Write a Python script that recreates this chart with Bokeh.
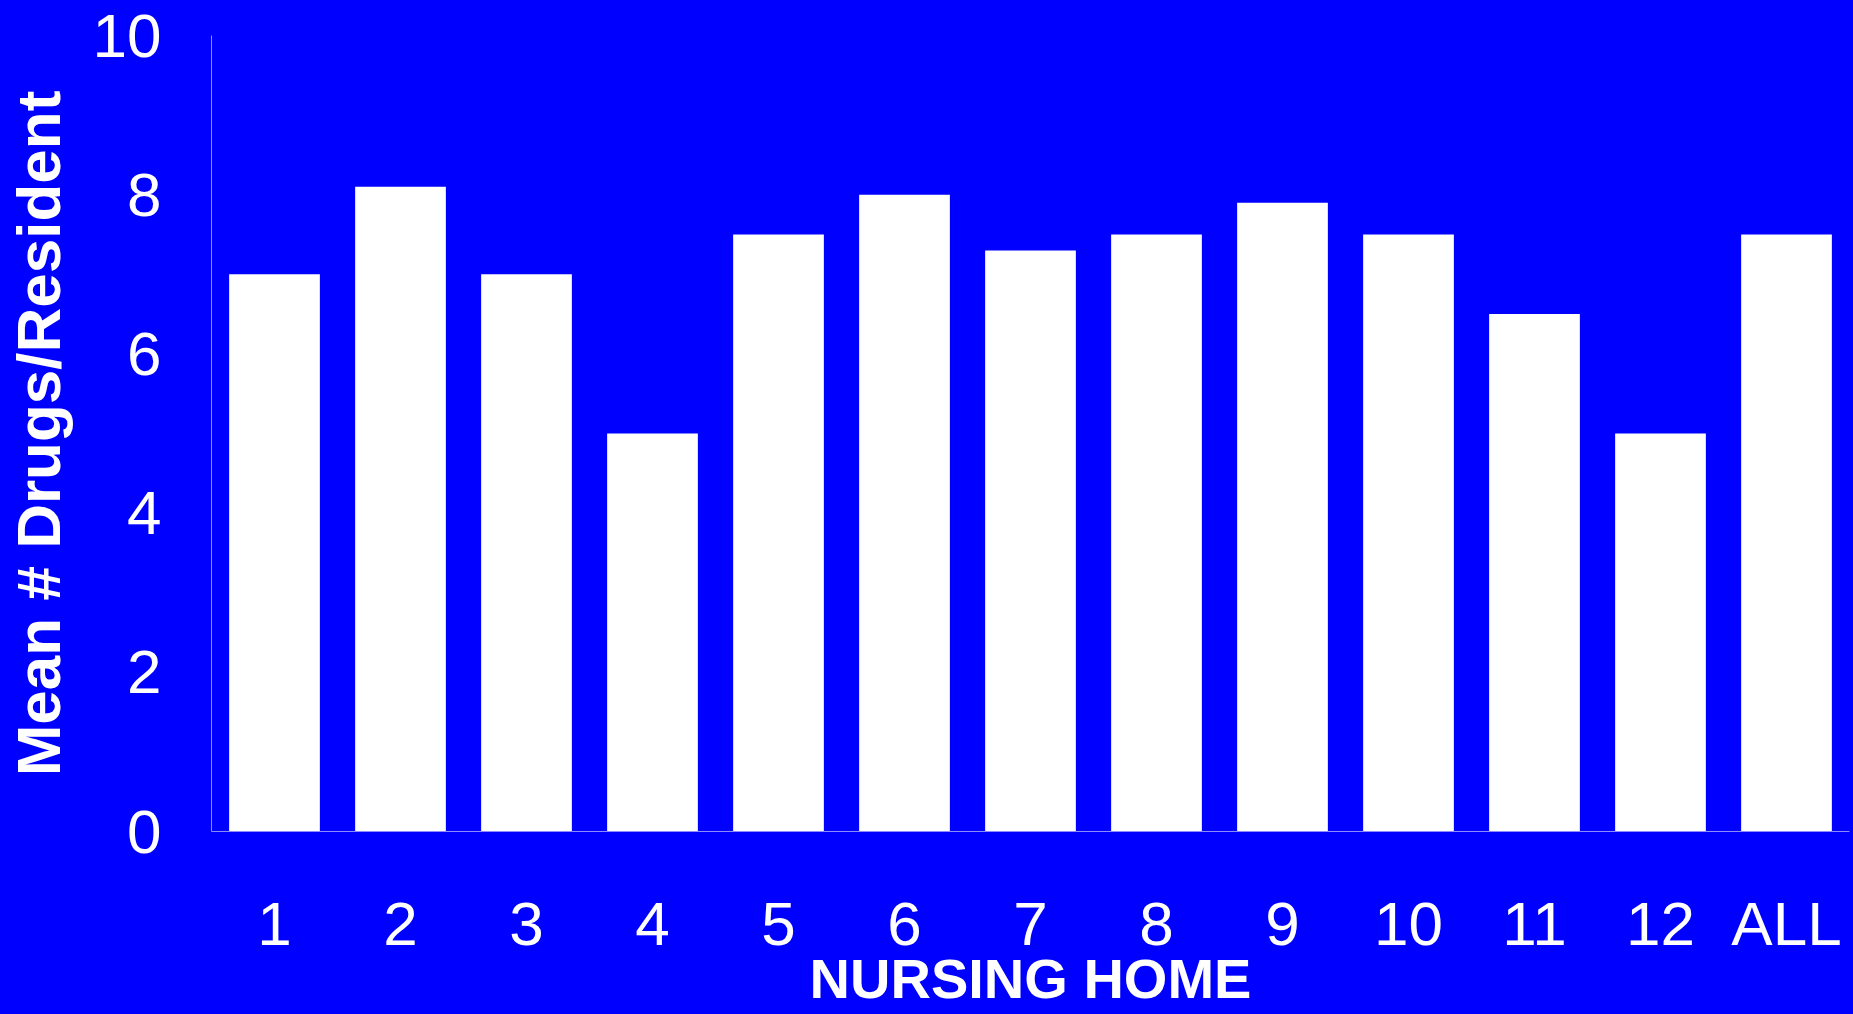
from bokeh.plotting import figure
from bokeh.models import FactorRange, Range1d, FixedTicker, ColumnDataSource, GlobalInlineStyleSheet
from bokeh.embed import file_html
from bokeh.resources import INLINE

# ---- data ----
homes = ["1", "2", "3", "4", "5", "6", "7", "8", "9", "10", "11", "12", "ALL"]
mean_drugs = [7.0, 8.1, 7.0, 5.0, 7.5, 8.0, 7.3, 7.5, 7.9, 7.5, 6.5, 5.0, 7.5]
y_ticks = [0, 2, 4, 6, 8, 10]

x_title = "NURSING HOME"
y_title = "Mean # Drugs/Resident"

BLUE = "#0000ff"
AXIS = "#8c8cff"
FONT = "Liberation Sans"

src = ColumnDataSource(dict(home=homes, value=mean_drugs))

p = figure(
    x_range=FactorRange(*homes),
    y_range=Range1d(0, 10),
    frame_width=1638,
    frame_height=796,
    min_border_left=205,
    min_border_right=2,
    min_border_top=35,
    min_border_bottom=100,
    output_backend="svg",
    toolbar_location=None,
)
p.stylesheets = [GlobalInlineStyleSheet(css="html, body { background-color: #0000ff; }")]

p.vbar(x="home", top="value", width=0.72, source=src,
       fill_color="white", line_color=None)

p.background_fill_color = BLUE
p.border_fill_color = BLUE
p.outline_line_color = None
p.xgrid.grid_line_color = None
p.ygrid.grid_line_color = None

for ax in (p.xaxis[0], p.yaxis[0]):
    ax.axis_line_color = AXIS
    ax.axis_line_width = 1
    ax.major_tick_line_color = None
    ax.minor_tick_line_color = None
    ax.major_tick_out = 0
    ax.major_tick_in = 0
    ax.major_label_text_font = FONT
    ax.major_label_text_font_size = "62px"
    ax.major_label_text_color = "white"
    ax.axis_label_text_font = FONT
    ax.axis_label_text_font_style = "bold"
    ax.axis_label_text_color = "white"

p.yaxis.ticker = FixedTicker(ticks=y_ticks)
p.yaxis.major_label_standoff = 50
p.yaxis.axis_label = y_title
p.yaxis.axis_label_text_font_size = "62px"
p.yaxis.axis_label_standoff = 17

p.xaxis.major_label_standoff = 57
p.xaxis.axis_label = x_title
p.xaxis.axis_label_text_font_size = "56px"
p.xaxis.axis_label_standoff = -14

open("out.html", "w").write(file_html(p, INLINE))
